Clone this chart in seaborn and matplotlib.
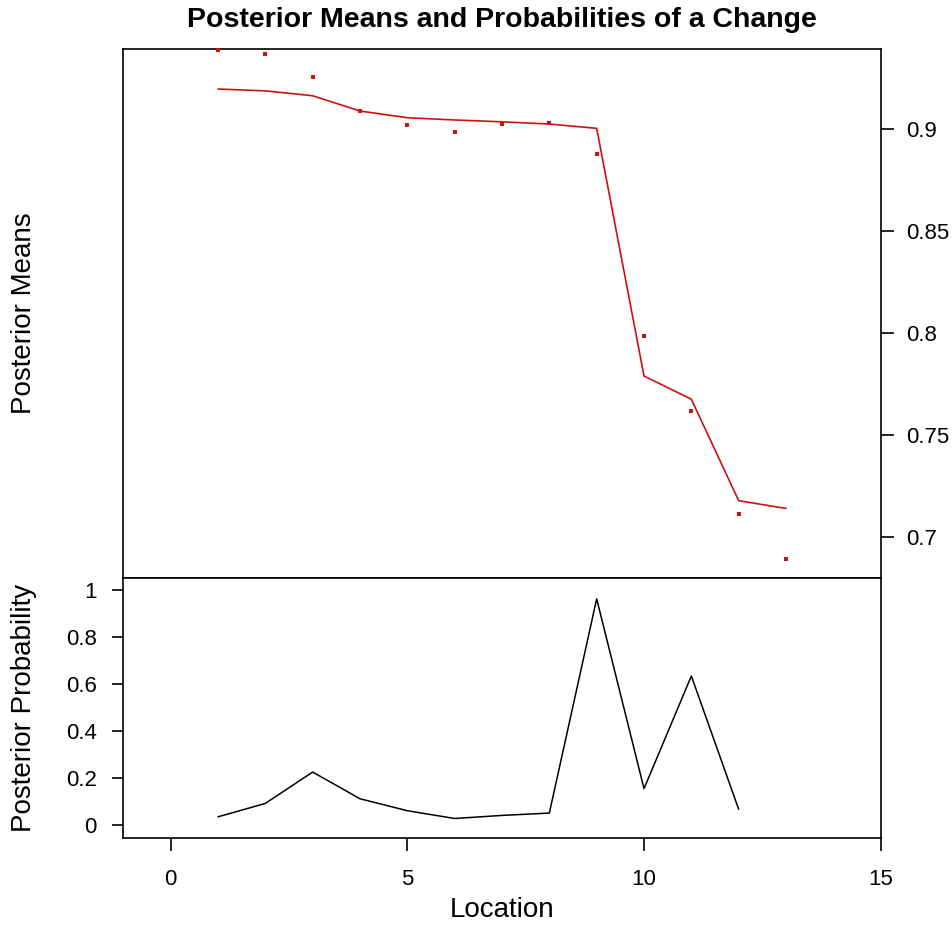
import numpy as np
import pandas as pd
import matplotlib
matplotlib.use("Agg")
import matplotlib.pyplot as plt
import seaborn as sns

# Observed data, posterior means and posterior probabilities of a change
location = [1, 2, 3, 4, 5, 6, 7, 8, 9, 10, 11, 12, 13]
observed = [0.9388, 0.9370, 0.9257, 0.9090, 0.9020, 0.8985, 0.9026, 0.9031,
            0.8879, 0.7985, 0.7617, 0.7110, 0.6890]
posterior_mean = [0.9198, 0.9189, 0.9165, 0.9090, 0.9057, 0.9046, 0.9037,
                  0.9026, 0.9005, 0.7789, 0.7675, 0.7177, 0.7139]
posterior_prob = [0.035, 0.092, 0.2255, 0.112, 0.061, 0.028, 0.041, 0.051,
                  0.962, 0.155, 0.634, 0.067, np.nan]

x_ticks = [0, 5, 10, 15]
mean_ticks = [0.7, 0.75, 0.8, 0.85, 0.9]
mean_tick_labels = ["0.7", "0.75", "0.8", "0.85", "0.9"]
prob_ticks = [0, 0.2, 0.4, 0.6, 0.8, 1.0]
prob_tick_labels = ["0", "0.2", "0.4", "0.6", "0.8", "1"]

df = pd.DataFrame({"location": location, "observed": observed,
                   "mean": posterior_mean, "prob": posterior_prob})

sns.set_theme(style="ticks")
plt.rcParams["font.family"] = ["Liberation Sans", "DejaVu Sans"]
plt.rcParams["text.color"] = "black"
plt.rcParams["axes.labelcolor"] = "black"

W, H = 953, 925
fig = plt.figure(figsize=(W / 100, H / 100), dpi=100)

def frac(x0, y0, x1, y1):
    return [x0 / W, 1 - y1 / H, (x1 - x0) / W, (y1 - y0) / H]

ax_top = fig.add_axes(frac(123.3, 49.3, 880.7, 577.7))
ax_bot = fig.add_axes(frac(123.3, 577.7, 880.7, 838.0))

red = "#CC1111"
sns.lineplot(data=df, x="location", y="mean", ax=ax_top, color=red,
             linewidth=1.2, estimator=None)
sns.scatterplot(data=df, x="location", y="observed", ax=ax_top, color=red,
                marker="s", s=6, linewidth=0, zorder=3, clip_on=False)

sns.lineplot(data=df.dropna(), x="location", y="prob", ax=ax_bot,
             color="black", linewidth=1.1, estimator=None)

for ax in (ax_top, ax_bot):
    ax.set_xlim(-1.0, 15.0)
    for s in ax.spines.values():
        s.set_visible(True)
        s.set_color("black")
        s.set_linewidth(1.2)
    ax.set_xlabel("")
    ax.set_ylabel("")

ax_top.set_ylim(0.6799, 0.9393)
ax_top.set_xticks([])
ax_top.yaxis.tick_right()
ax_top.set_yticks(mean_ticks)
ax_top.set_yticklabels(mean_tick_labels)
ax_top.tick_params(axis="y", right=True, left=False, length=9, width=1.2,
                   pad=9, labelsize=16, colors="black")

ax_bot.set_ylim(-0.055, 1.052)
ax_bot.set_yticks(prob_ticks)
ax_bot.set_yticklabels(prob_tick_labels)
ax_bot.set_xticks(x_ticks)
ax_bot.set_xticklabels([str(v) for v in x_ticks])
ax_bot.tick_params(axis="y", left=True, length=8, width=1.2, pad=11,
                   labelsize=16, colors="black")
ax_bot.tick_params(axis="x", bottom=True, length=9, width=1.2, pad=13,
                   labelsize=16, colors="black")

def fig_text(x, y, s, **kw):
    fig.text(x / W, 1 - y / H, s, ha="center", va="center", color="black", **kw)

fig_text(502, 20, "Posterior Means and Probabilities of a Change",
         fontsize=20.5, fontweight="bold")
fig_text(24, 313.5, "Posterior Means", fontsize=20, rotation=90)
fig_text(24, 707.8, "Posterior Probability", fontsize=20, rotation=90)
fig_text(502, 910, "Location", fontsize=20)

fig.savefig("out.png", dpi=100, facecolor="white")
